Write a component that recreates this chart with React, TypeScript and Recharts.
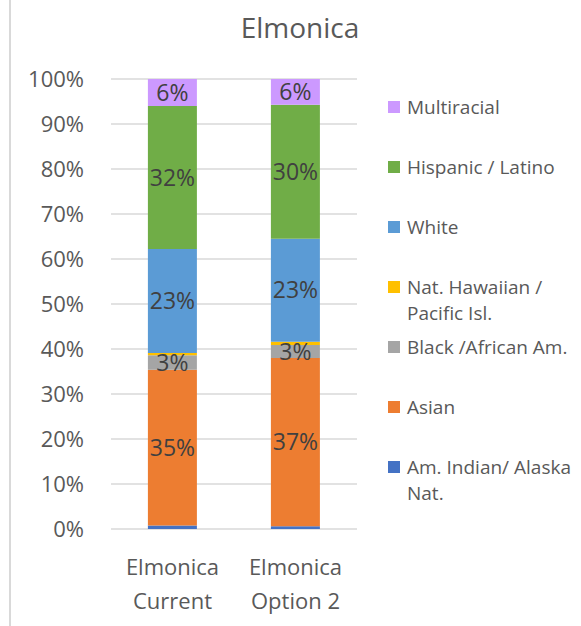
import React from 'react';
import { BarChart, Bar, XAxis, YAxis, CartesianGrid, LabelList } from 'recharts';

const categories = ['Elmonica Current', 'Elmonica Option 2'];

// shares in percent, bottom of the stack first
const amIndian = [0.8, 0.6];
const asian = [34.6, 37.4];
const black = [3.2, 2.9];
const natHawaiian = [0.5, 0.7];
const white = [23.1, 22.9];
const hispanic = [31.8, 29.8];
const multiracial = [6.0, 5.7];

const yTicks = [0, 10, 20, 30, 40, 50, 60, 70, 80, 90, 100];

const SERIES = [
  { key: 'amIndian', name: 'Am. Indian/ Alaska Nat.', color: '#4472C4', values: amIndian, label: false },
  { key: 'asian', name: 'Asian', color: '#ED7D31', values: asian, label: true },
  { key: 'black', name: 'Black /African Am.', color: '#A5A5A5', values: black, label: true },
  { key: 'natHawaiian', name: 'Nat. Hawaiian / Pacific Isl.', color: '#FFC000', values: natHawaiian, label: false },
  { key: 'white', name: 'White', color: '#5B9BD5', values: white, label: true },
  { key: 'hispanic', name: 'Hispanic / Latino', color: '#70AD47', values: hispanic, label: true },
  { key: 'multiracial', name: 'Multiracial', color: '#CC99FF', values: multiracial, label: true },
];

const data = categories.map((name, i) => {
  const row: Record<string, string | number> = { name };
  SERIES.forEach((s) => {
    row[s.key] = s.values[i];
  });
  return row;
});

const FONT = "'Open Sans', sans-serif";
const TEXT = '#595959';

const CategoryTick = (props: any) => {
  const { x, y, payload } = props;
  const label: string = payload.value;
  const cut = label.indexOf(' ');
  const first = label.slice(0, cut);
  const second = label.slice(cut + 1);
  return (
    <text x={x} y={y + 38} textAnchor="middle" fill={TEXT} fontSize={22}>
      <tspan x={x}>{first}</tspan>
      <tspan x={x} dy={34}>{second}</tspan>
    </text>
  );
};

const App = () => {
  return (
    <div
      style={{
        position: 'absolute',
        left: 0,
        top: 0,
        width: 581,
        height: 626,
        overflow: 'hidden',
        background: '#fff',
        fontFamily: FONT,
      }}
    >
      <div style={{ position: 'absolute', left: 9, top: 0, width: 2, height: 626, background: '#d9d9d9' }} />
      <div
        style={{
          position: 'absolute',
          left: 0,
          top: 8,
          width: 600,
          textAlign: 'center',
          fontSize: 28,
          color: TEXT,
          lineHeight: '38px',
        }}
      >
        Elmonica
      </div>
      <BarChart
        width={581}
        height={626}
        data={data}
        margin={{ top: 79, right: 224, bottom: 0, left: 0 }}
        barCategoryGap="30%"
      >
        <CartesianGrid vertical={false} stroke="#d9d9d9" strokeWidth={1.3} />
        <XAxis
          dataKey="name"
          height={97}
          axisLine={false}
          tickLine={false}
          tick={<CategoryTick />}
          interval={0}
        />
        <YAxis
          width={111}
          domain={[0, 100]}
          ticks={yTicks}
          interval={0}
          axisLine={false}
          tickLine={false}
          tickMargin={21}
          tickFormatter={(v: number) => `${v}%`}
          tick={{ fill: TEXT, fontSize: 22 }}
        />
        {SERIES.map((s) => (
          <Bar key={s.key} dataKey={s.key} name={s.name} stackId="a" fill={s.color} isAnimationActive={false}>
            {s.label && (
              <LabelList
                dataKey={s.key}
                position="center"
                fill="#404040"
                fontSize={23}
                formatter={(v: number) => `${Math.round(v)}%`}
              />
            )}
          </Bar>
        ))}
      </BarChart>
      <div style={{ position: 'absolute', left: 388, top: 94, width: 193 }}>
        {[...SERIES].reverse().map((s) => (
          <div key={s.key} style={{ position: 'relative', height: 60, paddingLeft: 19, boxSizing: 'border-box' }}>
            <span
              style={{
                position: 'absolute',
                left: 0,
                top: 7,
                width: 12,
                height: 12,
                background: s.color,
              }}
            />
            <div style={{ fontSize: 19, lineHeight: '26px', color: TEXT, width: 174 }}>{s.name}</div>
          </div>
        ))}
      </div>
    </div>
  );
};

export default App;
